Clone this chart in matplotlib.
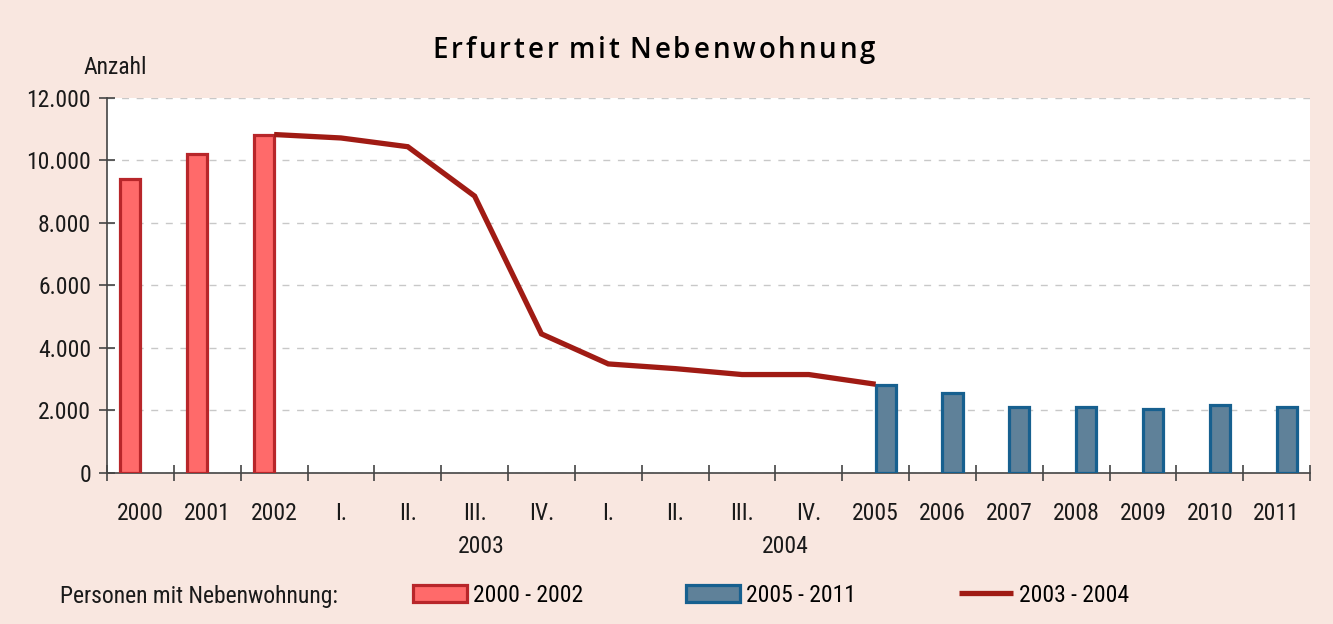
import matplotlib
matplotlib.use("Agg")
import matplotlib.pyplot as plt
from matplotlib import font_manager as fm
from matplotlib.ticker import FixedLocator, FuncFormatter
from matplotlib.transforms import blended_transform_factory

# x categories (years and quarters)
categories = ["2000", "2001", "2002", "I.", "II.", "III.", "IV.", "I.", "II.", "III.", "IV.",
              "2005", "2006", "2007", "2008", "2009", "2010", "2011"]

# bars 2000-2002
early_pos = [0, 1, 2]
early_values = [9400, 10200, 10800]

# bars 2005-2011
late_pos = [11, 12, 13, 14, 15, 16, 17]
late_values = [2820, 2560, 2110, 2110, 2050, 2180, 2110]

# line 2003-2004 (quarterly, joined to 2002 and 2005)
line_pos = [2, 3, 4, 5, 6, 7, 8, 9, 10, 11]
line_values = [10830, 10720, 10440, 8860, 4450, 3490, 3340, 3150, 3150, 2840]

year_groups = ["2003", "2004"]
year_group_pos = [5.1, 9.65]

TITLE = "Erfurter mit Nebenwohnung"

BG = "#f9e7e0"
RED_FILL = "#ff6a6a"
RED_EDGE = "#b8262a"
BLUE_FILL = "#5f8199"
BLUE_EDGE = "#17608f"
LINE = "#a01b14"
TXT = "#1a1a1a"

# pick a narrow face if one is installed
fonts = fm.fontManager.ttflist
narrow = [f.name for f in fonts if f.name in ("Liberation Sans Narrow", "Roboto Condensed",
                                              "Open Sans Condensed")]
if narrow:
    plt.rcParams["font.family"] = [narrow[0], "DejaVu Sans"]
    FS = 17
elif any(f.name == "DejaVu Sans" and f.stretch == "condensed" for f in fonts):
    plt.rcParams["font.family"] = ["DejaVu Sans"]
    plt.rcParams["font.stretch"] = "condensed"
    FS = 15
else:
    plt.rcParams["font.family"] = ["Roboto", "DejaVu Sans"]
    FS = 15

fig = plt.figure(figsize=(13.33, 6.24), dpi=100, facecolor=BG)
ax = fig.add_axes([0.0803, 0.242, 0.9025, 0.601])
ax.set_facecolor("white")

w = 0.3
red = ax.bar([p - w / 2 for p in early_pos], early_values, width=w,
             color=RED_FILL, edgecolor=RED_EDGE, linewidth=2.3, zorder=3)
blue = ax.bar([p + w / 2 for p in late_pos], late_values, width=w,
              color=BLUE_FILL, edgecolor=BLUE_EDGE, linewidth=2.3, zorder=3)
line, = ax.plot(line_pos, line_values, color=LINE, linewidth=3.8, zorder=4,
                solid_joinstyle="miter", solid_capstyle="butt")

ax.set_xlim(-0.5, 17.5)
ax.set_ylim(0, 12000)

for s in ("top", "right"):
    ax.spines[s].set_visible(False)
for s in ("left", "bottom"):
    ax.spines[s].set_color("#444444")
    ax.spines[s].set_linewidth(1.2)

ax.xaxis.set_major_locator(FixedLocator([i - 0.5 for i in range(len(categories) + 1)]))
ax.xaxis.set_major_formatter(FuncFormatter(lambda v, p: ""))
ax.xaxis.set_minor_locator(FixedLocator(list(range(len(categories)))))
ax.set_xticklabels(categories, minor=True)
ax.tick_params(axis="x", which="major", direction="inout", length=11, width=1.2, color="#444444")
ax.tick_params(axis="x", which="minor", length=0, pad=21, labelsize=FS, labelcolor=TXT)

ax.set_yticks(range(0, 12001, 2000))
ax.yaxis.set_major_formatter(FuncFormatter(lambda v, p: f"{int(v):,}".replace(",", ".")))
ax.tick_params(axis="y", direction="inout", length=11, width=1.2, color="#444444",
               pad=6, labelsize=FS, labelcolor=TXT)

ax.yaxis.grid(True, color="#c8c8c8", linewidth=1.0, linestyle=(0, (5, 5.5)))
ax.set_axisbelow(True)

trans = blended_transform_factory(ax.transData, ax.transAxes)
for lab, x in zip(year_groups, year_group_pos):
    ax.text(x, -0.195, lab, transform=trans, ha="center", va="center", fontsize=FS, color=TXT)

# title with letter spacing: place each glyph separately
renderer = fig.canvas.get_renderer()
tkw = dict(fontsize=20, family=["Open Sans", "DejaVu Sans"], stretch="normal",
           weight="semibold", color="#000000")


def text_width(s):
    t = fig.text(0, 0, s, **tkw)
    wdt = t.get_window_extent(renderer).width
    t.remove()
    return wdt


track = 2.9
space = text_width("a a") - text_width("aa")
words = TITLE.split(" ")
pieces = []
x = 0.0
for word in words:
    for i, ch in enumerate(word):
        offset = text_width(word[:i]) + i * track if i else 0.0
        pieces.append((x + offset, ch))
    x += text_width(word) + (len(word) - 1) * track + space + track
total = x - space - track
x0 = 654 - total / 2
for px, ch in pieces:
    fig.text((x0 + px) / 1333, 1 - 50 / 624, ch, ha="left", va="center", **tkw)

fig.text(83 / 1333, 1 - 67 / 624, "Anzahl", ha="left", va="center", fontsize=FS, color=TXT)

fig.text(60 / 1333, 1 - 596 / 624, "Personen mit Nebenwohnung:", ha="left", va="center",
         fontsize=FS, color=TXT)
fig.legend([red, blue, line], ["2000 - 2002", "2005 - 2011", "2003 - 2004"],
           loc="center left", bbox_to_anchor=(413 / 1333, 1 - 595 / 624), ncol=3,
           frameon=False, fontsize=FS, handlelength=2.3 * 17 / FS, handleheight=0.75 * 17 / FS,
           handletextpad=0.25 * 17 / FS, columnspacing=4.35 * 17 / FS,
           borderpad=0, borderaxespad=0)

fig.savefig("out.png", dpi=100, facecolor=BG)
